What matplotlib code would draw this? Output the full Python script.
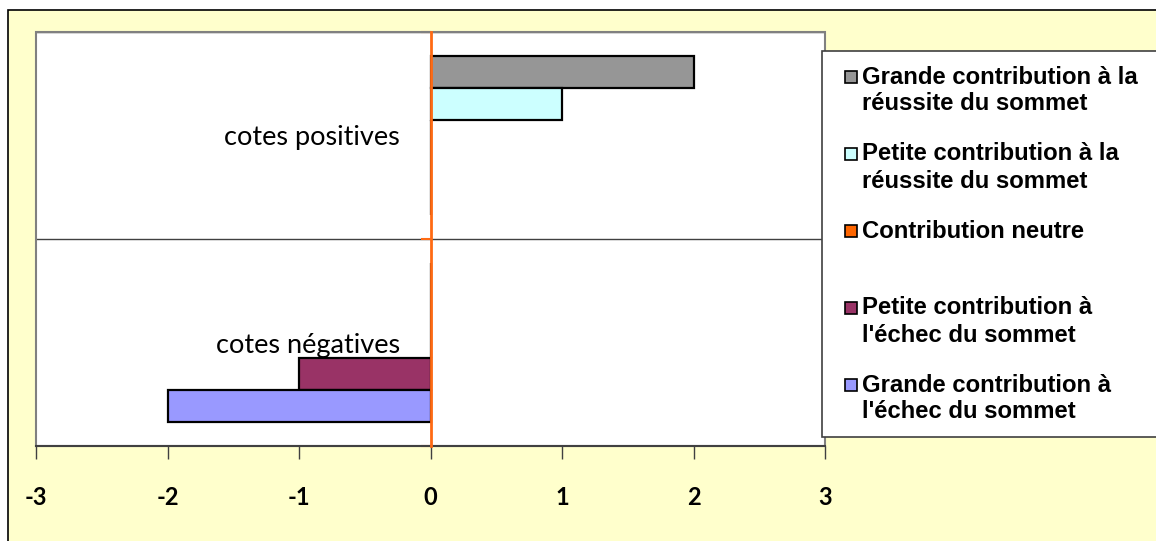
import matplotlib.pyplot as plt
from matplotlib.patches import Rectangle
import numpy as np

# Data (categories bottom to top on the y axis)
categories = ["cotes négatives", "cotes positives"]
series_names = [
    "Grande contribution à la\nréussite du sommet",
    "Petite contribution à la\nréussite du sommet",
    "Contribution neutre",
    "Petite contribution à\nl'échec du sommet",
    "Grande contribution à\nl'échec du sommet",
]
series_colors = ["#969696", "#CCFFFF", "#FF6600", "#993366", "#9999FF"]
grande_reussite = [0, 2]
petite_reussite = [0, 1]
neutre = [0, 0]
petite_echec = [-1, 0]
grande_echec = [-2, 0]
series_values = [grande_reussite, petite_reussite, neutre, petite_echec, grande_echec]
x_ticks = [-3, -2, -1, 0, 1, 2, 3]

W, H = 1156, 541
fig = plt.figure(figsize=(W / 100, H / 100), dpi=100)
fig.patch.set_facecolor("white")

# outer yellow chart area
fig.add_artist(Rectangle((8 / W, -0.1), 1.2, 1.1 - 10 / H, transform=fig.transFigure,
                         facecolor="#FFFFCC", edgecolor="black", lw=1.2, zorder=0))

ax = fig.add_axes([36 / W, (H - 446) / H, (825 - 36) / W, (446 - 32) / H])
ax.set_facecolor("white")

# clustered bars, Excel style: 5 slots + 150% gap per category
n = len(series_values)
slot = 1 / (n + 1.5)
y = np.arange(len(categories))
for i, (vals, col) in enumerate(zip(series_values, series_colors)):
    off = (2 - i) * slot
    ax.barh(y + off, vals, height=slot, color=col, edgecolor="black", linewidth=1.6, zorder=2)

ax.set_xlim(-3, 3)
ax.set_ylim(-0.5, 1.5)

# plot-area frame
ax.add_patch(Rectangle((0, 0), 1, 1, transform=ax.transAxes, fill=False,
                       edgecolor="#808080", lw=1.5, clip_on=False, zorder=1))

ax.spines["top"].set_visible(False)
ax.spines["right"].set_visible(False)
ax.spines["bottom"].set_color("#404040")
ax.spines["bottom"].set_linewidth(1.5)

# category axis in orange crossing at 0
ax.spines["left"].set_position(("data", 0))
ax.spines["left"].set_color("#FF6A13")
ax.spines["left"].set_linewidth(2)
ax.spines["left"].set_zorder(5)
ax.set_yticks([-0.5, 0.5, 1.5])
ax.set_yticklabels([])
ax.set_yticks(y, minor=True)
ax.set_yticklabels(categories, minor=True, fontsize=19.5, family="Lato")
ax.tick_params(axis="y", which="major", direction="out", length=7, width=1.5, color="#FF6A13")
ax.tick_params(axis="y", which="minor", length=0, pad=22)
ax.yaxis.grid(True, which="major", color="#404040", lw=1)
ax.set_axisbelow(True)

ax.set_xticks(x_ticks)
ax.set_xticklabels([str(v) for v in x_ticks], fontsize=17, fontweight="bold", family="Lato")
ax.tick_params(axis="x", direction="out", length=9, width=1, color="#404040", pad=20)

# legend box drawn by hand to keep Excel's line layout
fig.add_artist(Rectangle((822 / W, (H - 437) / H), 0.5, (437 - 51) / H, transform=fig.transFigure,
                         facecolor="white", edgecolor="#404040", lw=1.2, zorder=6))
for k, (name, col) in enumerate(zip(series_names, series_colors)):
    y1 = 77 + 77 * k
    fig.add_artist(Rectangle((845 / W, (H - y1 - 6) / H), 12 / W, 12 / H, transform=fig.transFigure,
                             facecolor=col, edgecolor="black", lw=1.2, zorder=7))
    for j, line in enumerate(name.split("\n")):
        fig.text(862 / W, 1 - (y1 + 27 * j) / H, line, va="center", ha="left",
                 fontsize=17.2, fontweight="bold", family="Liberation Sans", zorder=8)

fig.savefig("out.png", dpi=100)
